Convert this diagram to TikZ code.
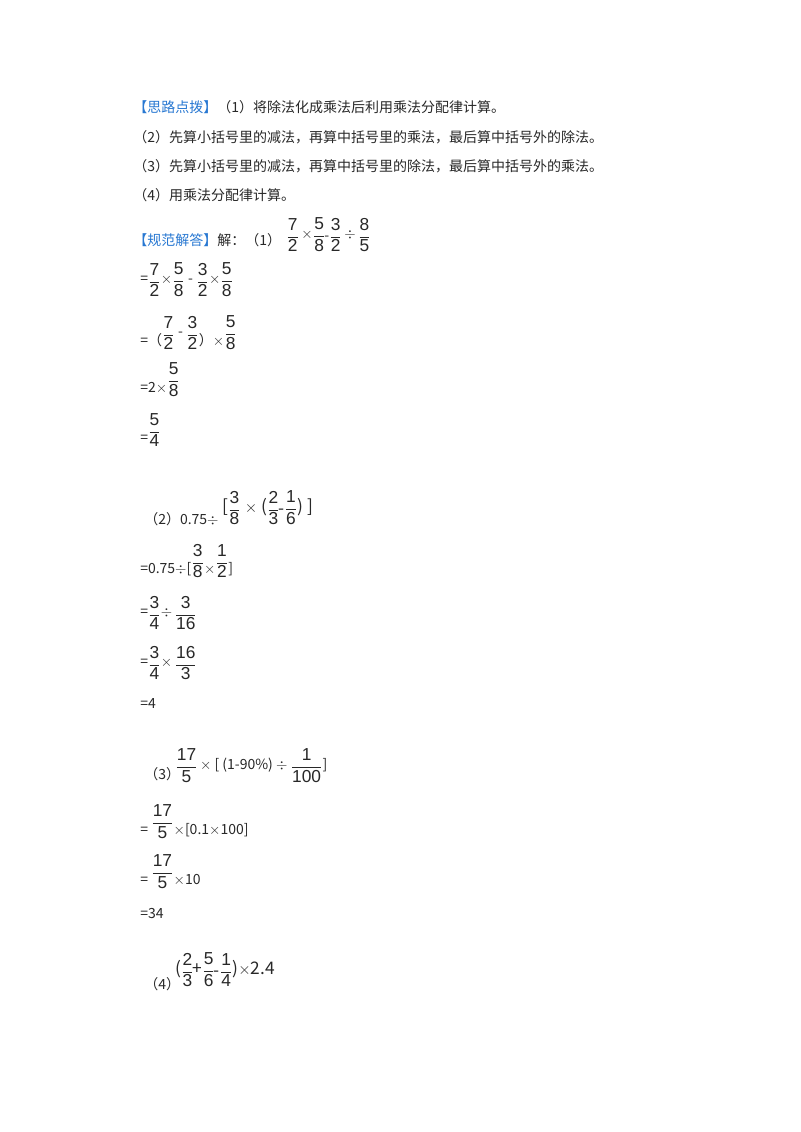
\documentclass[tikz,border=0pt]{standalone}
\usepackage{amsmath}
\usepackage{fontspec}
\setmainfont{Liberation Serif}
\newfontfamily\cjk{Noto Sans CJK SC}
\newfontfamily\fsans{Liberation Sans}
\definecolor{hd}{RGB}{40,120,210}
\definecolor{tx}{RGB}{40,40,40}
\newcommand\fr[2]{$\vcenter{\hbox{\fsans\fontsize{13}{14}\selectfont$\dfrac{\mbox{#1}}{\mbox{#2}}$}}$}
\newcommand\lo[1]{\raisebox{-1.1ex}{#1}}
\begin{document}
\begin{tikzpicture}[x=0.75pt,y=-0.75pt,
  t/.style={anchor=base west,inner sep=0,text=tx,font=\cjk\fontsize{10.5}{12}\selectfont},
  e/.style={anchor=west,inner sep=0,text=tx,font=\cjk\fontsize{10.5}{12}\selectfont}]
\fill[white] (0,0) rectangle (800,1132);
\node[t] (a1) at (133,112) {{\color{hd}【思路点拨】}（1）将除法化成乘法后利用乘法分配律计算。};
\node[t] (a2) at (133,142) {（2）先算小括号里的减法，再算中括号里的乘法，最后算中括号外的除法。};
\node[t] (a3) at (133,171) {（3）先算小括号里的减法，再算中括号里的除法，最后算中括号外的乘法。};
\node[t] (a4) at (133,200) {（4）用乘法分配律计算。};
\node[t] (b0) at (133,245) {{\color{hd}【规范解答】}解：（1）};
\node[e] (b1) at (286,235) {\fr72\,$\times$\fr58\kern-1pt\raisebox{-0.3ex}{-}\fr32\,$\div$\,\fr85};
\node[e] (c1) at (140,280) {=\fr72$\times$\fr58 - \fr32$\times$\fr58};
\node[e] (c2) at (140,333) {\lo{=（}\fr72 - \fr32\lo{）$\times$}\fr58};
\node[e] (c3) at (140,380) {\lo{=2$\times$}\fr58};
\node[e] (c4) at (140,430) {\lo{=}\fr54};
\node[t] (d0) at (144,524) {（2）0.75$\div$};
\node[e] (d1) at (222,508) {\fontsize{13}{14}\selectfont[\fr38 $\times$ (\fr23\kern-1pt\raisebox{-0.3ex}{-}\fr16) ]};
\node[e] (d2) at (140,561) {\lo{=0.75$\div$[}\fr38\lo{$\times$}\fr12\lo{]}};
\node[e] (d3) at (140,613) {=\fr34$\div$\,\fr3{16}};
\node[e] (d4) at (140,663) {=\fr34$\times$\,\fr{16}3};
\node[t] (d5) at (140,708) {=4};
\node[t] (f0) at (144,779) {（3）};
\node[e] (f1) at (175,766) {\fr{17}5\,$\times$ [ (1-90\%) $\div$ \fr1{100}]};
\node[e] (f2) at (140,822) {\lo{= }\fr{17}5\lo{$\times$[0.1$\times$100]}};
\node[e] (f3) at (140,872) {\lo{= }\fr{17}5\lo{$\times$10}};
\node[t] (f4) at (140,918) {=34};
\node[t] (g0) at (144,989) {（4）};
\node[e] (g1) at (175,970) {\fontsize{13}{14}\selectfont(\fr23\kern-1pt+\fr56\kern-1pt\raisebox{-0.3ex}{-}\fr14)$\times$2.4};
\end{tikzpicture}
\end{document}
